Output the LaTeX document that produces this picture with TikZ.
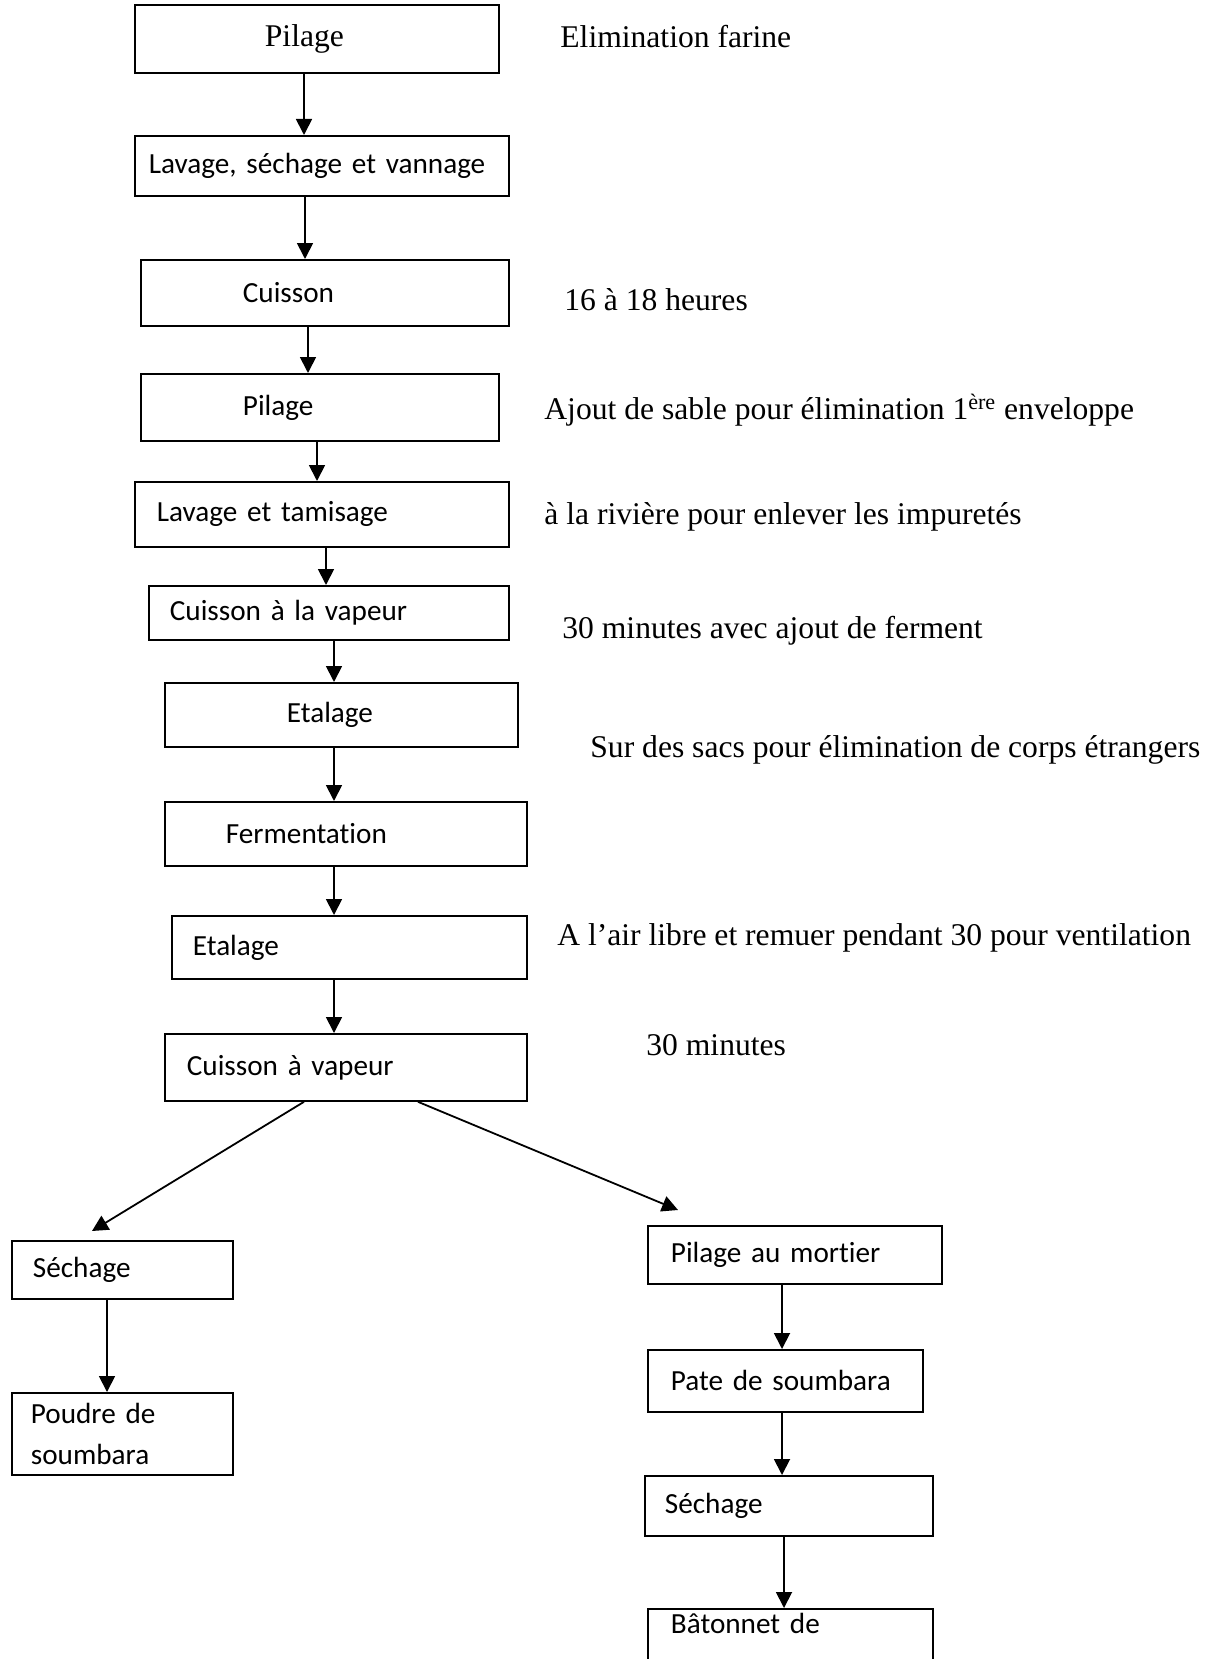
\documentclass[tikz,border=0pt]{standalone}
\usepackage{fontspec}
\setmainfont{Liberation Serif}
\newfontfamily\boxfont[Ligatures=NoCommon, WordSpace=0.8]{Carlito}
\usetikzlibrary{arrows.meta}

\tikzset{
  box/.style={draw, line width=0.9pt, anchor=north west, align=left, inner ysep=0pt,
    font=\boxfont\fontsize{14.6}{20.5}\selectfont},
  note/.style={anchor=west, inner sep=0pt, font=\fontsize{15.8}{19}\selectfont},
  arr/.style={-{Triangle[length=8pt,width=8pt]}, line width=0.9pt}
}

\begin{document}
\begin{tikzpicture}[x=1pt, y=-1pt]
    \useasboundingbox (0,0) rectangle (606,829.5);

    % main column
    \node[box, font=\fontsize{15.8}{19}\selectfont, text width=52pt, inner xsep=65pt, minimum height=34pt] (pila) at (67,2) {Pilage};
    \node[box, text width=173pt, inner xsep=7pt, minimum height=30pt] (lava) at (67,67.5) {Lavage, séchage et vannage};
    \node[box, text width=82pt, inner xsep=51pt, minimum height=33pt] (cuis) at (70,129.5) {Cuisson};
    \node[box, text width=77pt, inner xsep=51pt, minimum height=33.5pt] (pilb) at (70,186.5) {Pilage};
    \node[box, text width=165pt, inner xsep=11pt, minimum height=32.5pt] (tami) at (67,240.5) {Lavage et tamisage};
    \node[box, text width=159pt, inner xsep=10.5pt, minimum height=27pt] (vapa) at (74,292.5) {Cuisson à la vapeur};
    \node[box, text width=54.5pt, inner xsep=61pt, minimum height=32pt] (etaa) at (82,341) {Etalage};
    \node[box, text width=120pt, inner xsep=30.5pt, minimum height=32pt] (ferm) at (82,400.5) {Fermentation};
    \node[box, text width=156.5pt, inner xsep=10.5pt, minimum height=31.5pt] (etab) at (85.5,457.5) {Etalage};
    \node[box, text width=159pt, inner xsep=11pt, minimum height=33.5pt] (vapb) at (82,516.5) {Cuisson à vapeur};

    % left branch
    \node[box, text width=89.5pt, inner xsep=10.5pt, minimum height=29pt] (seca) at (5.5,620) {Séchage};
    \node[box, text width=91.5pt, inner xsep=9.5pt, minimum height=41pt] (poud) at (5.5,696) {Poudre de\\soumbara};

    % right branch
    \node[box, text width=124pt, inner xsep=11.5pt, minimum height=29pt] (mort) at (323.5,612.5) {Pilage au mortier};
    \node[box, text width=114.5pt, inner xsep=11.5pt, minimum height=31pt] (pate) at (323.5,674.5) {Pate de soumbara};
    \node[box, text width=124pt, inner xsep=10pt, minimum height=30pt] (secb) at (322,737.5) {Séchage};
    \node[box, text width=119.5pt, inner xsep=11.5pt, inner ysep=3pt, text height=9.5pt, text depth=40pt] (bato) at (323.5,804) {Bâtonnet de};

    % notes
    \node[note] (n1) at (280,18.5) {Elimination farine};
    \node[note] (n2) at (282,150) {16 à 18 heures};
    \node[note] (n3) at (272,205) {Ajout de sable pour élimination 1\textsuperscript{ère} enveloppe};
    \node[note] (n4) at (272,258.5) {à la rivière pour enlever les impuretés};
    \node[note] (n5) at (281,315.5) {30 minutes avec ajout de ferment};
    \node[note] (n6) at (295,375) {Sur des sacs pour élimination de corps étrangers};
    \node[note] (n7) at (278.5,469) {A l’air libre et remuer pendant 30 pour ventilation};
    \node[note] (n8) at (323,522.5) {30 minutes};

    % arrows
    \draw[arr] (152,0 |- pila.south) -- (152,0 |- lava.north);
    \draw[arr] (152.5,0 |- lava.south) -- (152.5,0 |- cuis.north);
    \draw[arr] (154,0 |- cuis.south) -- (154,0 |- pilb.north);
    \draw[arr] (158.5,0 |- pilb.south) -- (158.5,0 |- tami.north);
    \draw[arr] (163,0 |- tami.south) -- (163,0 |- vapa.north);
    \draw[arr] (167,0 |- vapa.south) -- (167,0 |- etaa.north);
    \draw[arr] (167,0 |- etaa.south) -- (167,0 |- ferm.north);
    \draw[arr] (167,0 |- ferm.south) -- (167,0 |- etab.north);
    \draw[arr] (167,0 |- etab.south) -- (167,0 |- vapb.north);

    \coordinate (gl) at (46,615.5);
    \coordinate (dr) at (339,605);
    \draw[arr] (152,0 |- vapb.south) -- (gl);
    \draw[arr] (209,0 |- vapb.south) -- (dr);

    \draw[arr] (53.5,0 |- seca.south) -- (53.5,0 |- poud.north);
    \draw[arr] (391,0 |- mort.south) -- (391,0 |- pate.north);
    \draw[arr] (391,0 |- pate.south) -- (391,0 |- secb.north);
    \draw[arr] (392,0 |- secb.south) -- (392,0 |- bato.north);
\end{tikzpicture}
\end{document}
